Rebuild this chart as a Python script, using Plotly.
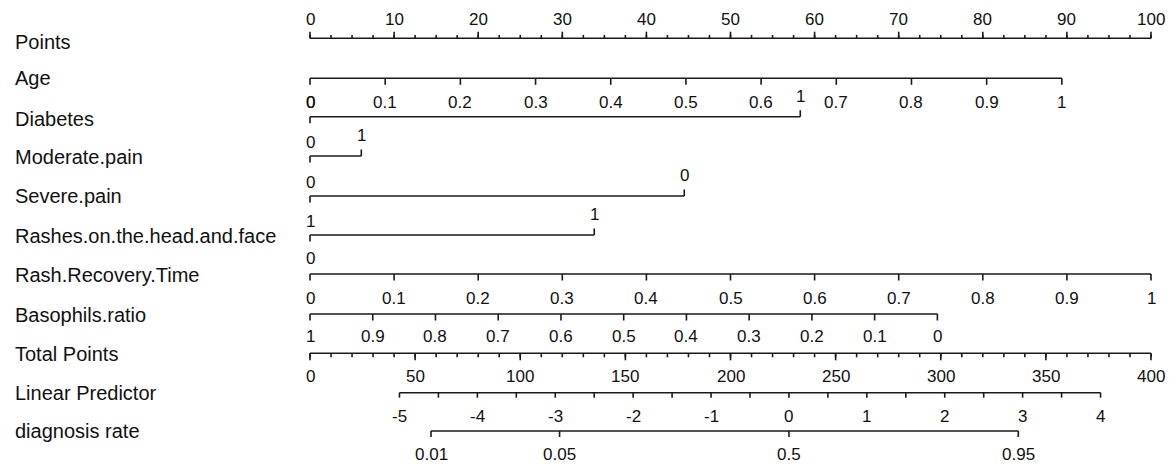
import numpy as np
import plotly.graph_objects as go

# ---------------- data ----------------
row_names = ["Points", "Age", "Diabetes", "Moderate.pain", "Severe.pain",
             "Rashes.on.the.head.and.face", "Rash.Recovery.Time", "Basophils.ratio",
             "Total Points", "Linear Predictor", "diagnosis rate"]

points_ticks = list(range(0, 101, 10))
points_minor_step = 2.5

age_ticks = [0, 0.1, 0.2, 0.3, 0.4, 0.5, 0.6, 0.7, 0.8, 0.9, 1]
age_points_per_unit = 89.4

diabetes_labels = ["0", "1"]
diabetes_points = [0, 58.3]

moderate_labels = ["0", "1"]
moderate_points = [0, 6.1]

severe_labels = ["0", "0"]
severe_points = [0, 44.5]

rashes_labels = ["1", "1"]
rashes_points = [0, 33.8]

rrt_ref_label = "0"
rrt_ticks = [0, 0.1, 0.2, 0.3, 0.4, 0.5, 0.6, 0.7, 0.8, 0.9, 1]
rrt_points_per_unit = 100.0

baso_ticks = [1, 0.9, 0.8, 0.7, 0.6, 0.5, 0.4, 0.3, 0.2, 0.1, 0]
baso_points_at_zero = 74.6   # points when ratio = 0 (ratio 1 -> 0 points)

total_ticks = list(range(0, 401, 50))
total_minor_step = 10
total_max = 400

lp_ticks = [-5, -4, -3, -2, -1, 0, 1, 2, 3, 4]
lp_tp_at_zero = 227.8       # total points at linear predictor 0
lp_tp_per_unit = 37.05      # total points per unit of linear predictor

rate_ticks = [0.01, 0.05, 0.5, 0.95]
rate_labels = ["0.01", "0.05", "0.5", "0.95"]

# ---------------- layout helpers ----------------
W, H = 1170, 469          # page size
PX0, PX_PER_PT = 310.0, 8.41   # page pixel of 0 points, pixels per point


def fmt(v):
    return f"{v:g}"


def tp_to_x(tp):
    return tp * 100.0 / total_max


def lp_to_x(lp):
    return tp_to_x(lp_tp_at_zero + lp_tp_per_unit * lp)


xs, ys = [], []


def seg(x0, y0, x1, y1):
    xs.extend([x0, x1, None])
    ys.extend([y0, y1, None])


annotations = []
TICK_FONT = dict(family="Liberation Sans, Arial, sans-serif", size=17, color="#111")
ROW_FONT = dict(family="Liberation Sans, Arial, sans-serif", size=20, color="#111")


def label(x, y, text):
    annotations.append(dict(x=x, y=y, xref="x", yref="y", text=text, showarrow=False,
                            xanchor="center", yanchor="middle", font=TICK_FONT))


# Points axis
L = 38.3
seg(0, L, 100, L)
for v in np.arange(0, 100 + 1e-9, points_minor_step):
    seg(v, L, v, L - 3.3)
for v in points_ticks:
    seg(v, L, v, L - 6.6)
    label(v, 19, fmt(v))

# Age
L = 78.3
seg(0, L, age_ticks[-1] * age_points_per_unit, L)
for v in age_ticks:
    x = v * age_points_per_unit
    seg(x, L, x, L + 6.5)
    label(x, 102.5, fmt(v))


def categorical(L, labs, pts):
    seg(pts[0], L, pts[-1], L)
    for i, (lab, p) in enumerate(zip(labs, pts)):
        if i == 0:
            seg(p, L, p, L + 6.5)
            label(p, L - 14, lab)
        else:
            seg(p, L, p, L - 6.5)
            label(p, L - 20.5, lab)


categorical(116.7, diabetes_labels, diabetes_points)
categorical(156.0, moderate_labels, moderate_points)
categorical(196.0, severe_labels, severe_points)
categorical(235.0, rashes_labels, rashes_points)

# Rash.Recovery.Time
L = 274.0
label(0, L - 15.2, rrt_ref_label)
seg(0, L, rrt_ticks[-1] * rrt_points_per_unit, L)
for v in rrt_ticks:
    x = v * rrt_points_per_unit
    seg(x, L, x, L + 6.5)
    label(x, 298.3, fmt(v))

# Basophils.ratio
L = 314.0
seg(0, L, baso_points_at_zero, L)
for v in baso_ticks:
    x = (1 - v) * baso_points_at_zero
    seg(x, L, x, L + 6.5)
    label(x, 336.7, fmt(v))

# Total Points
L = 353.3
seg(0, L, tp_to_x(total_max), L)
for v in range(0, total_max + 1, total_minor_step):
    seg(tp_to_x(v), L, tp_to_x(v), L + 4)
for v in total_ticks:
    seg(tp_to_x(v), L, tp_to_x(v), L + 7)
    label(tp_to_x(v), 376.7, fmt(v))

# Linear Predictor
L = 392.7
seg(lp_to_x(lp_ticks[0]), L, lp_to_x(lp_ticks[-1]), L)
for v in np.arange(lp_ticks[0], lp_ticks[-1] + 1e-9, 0.5):
    seg(lp_to_x(v), L, lp_to_x(v), L + 5)
for v in lp_ticks:
    label(lp_to_x(v), 416.7, fmt(v))

# diagnosis rate
L = 431.0
logit = [np.log(p / (1 - p)) for p in rate_ticks]
seg(lp_to_x(logit[0]), L, lp_to_x(logit[-1]), L)
for lg, lab in zip(logit, rate_labels):
    seg(lp_to_x(lg), L, lp_to_x(lg), L + 6)
    label(lp_to_x(lg), 454.5, lab)

# row names
row_y = [41.5, 78.0, 119.0, 156.5, 196.0, 236.0, 275.0, 315.0, 353.5, 393.0, 431.0]
row_x = (13 - PX0) / PX_PER_PT
for name, y in zip(row_names, row_y):
    annotations.append(dict(x=row_x, y=y, xref="x", yref="y", text=name, showarrow=False,
                            xanchor="left", yanchor="middle", font=ROW_FONT))

fig = go.Figure()
fig.add_trace(go.Scatter(x=xs, y=ys, mode="lines", line=dict(color="#1a1a1a", width=1.6),
                         hoverinfo="skip", showlegend=False))

fig.update_layout(
    width=W, height=H,
    margin=dict(l=0, r=0, t=0, b=0),
    paper_bgcolor="white", plot_bgcolor="white",
    xaxis=dict(range=[(0 - PX0) / PX_PER_PT, (W - PX0) / PX_PER_PT], visible=False, fixedrange=True),
    yaxis=dict(range=[H, 0], visible=False, fixedrange=True),
    annotations=annotations,
    showlegend=False,
)

fig.write_html(
    "out.html",
    config={"displayModeBar": False, "staticPlot": True},
    post_script="document.body.style.margin='0';document.body.style.overflow='hidden';",
)
